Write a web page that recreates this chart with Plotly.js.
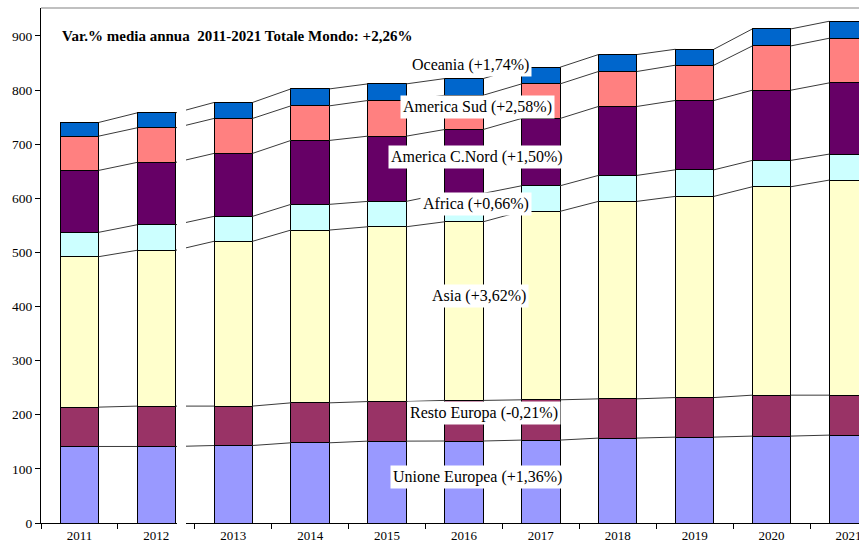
<!DOCTYPE html>
<html>
<head>
<meta charset="utf-8">
<script src="https://cdn.plot.ly/plotly-3.0.1.min.js"></script>
<style>
html,body{margin:0;padding:0;background:#fff;overflow:hidden;}
#chart{width:859px;height:544px;}
</style>
</head>
<body>
<div id="chart"></div>
<script>
// ---- data ----
var years = ["2011","2012","2013","2014","2015","2016","2017","2018","2019","2020","2021"];
var seriesNames = ["Unione Europea","Resto Europa","Asia","Africa","America C.Nord","America Sud","Oceania"];
var growthLabels = ["+1,36%","-0,21%","+3,62%","+0,66%","+1,50%","+2,58%","+1,74%"];
var unioneEuropea = [141.4,141.4,143.2,148.2,151.3,151.5,153.2,156.9,158.7,160.6,162.4];
var restoEuropa   = [72.7,74.6,72.8,73.8,73.1,75.0,74.4,72.5,73.1,75.6,73.8];
var asia          = [278.0,287.9,304.5,319.3,323.0,330.1,348.3,364.9,371.7,385.1,397.4];
var africa        = [45.0,47.2,46.1,47.5,46.9,52.4,47.2,48.0,49.1,48.7,48.0];
var americaCNord  = [114.4,115.2,116.3,118.1,120.5,118.1,124.4,127.4,128.1,129.7,131.6];
var americaSud    = [63.3,63.9,64.6,63.9,65.9,63.3,63.9,64.6,65.2,81.8,82.5];
var oceania       = [25.3,27.6,29.5,31.3,30.7,30.8,30.8,31.3,29.5,31.4,31.4];
var titleText = "Var.% media annua  2011-2021 Totale Mondo: +2,26%";

// ---- style ----
var colors = ["#9999FF","#993366","#FFFFCC","#CCFFFF","#660066","#FF8080","#0066CC"];
var serif = "Liberation Serif, Times New Roman, serif";
var allSeries = [unioneEuropea, restoEuropa, asia, africa, americaCNord, americaSud, oceania];
var xIdx = years.map(function(_, i){ return i; });
var halfBar = 0.25;

var traces = [];
allSeries.forEach(function(vals, k){
  traces.push({
    type: "bar", x: xIdx, y: vals, name: seriesNames[k],
    marker: {color: colors[k], line: {color: "#000", width: 1}},
    hoverinfo: "skip"
  });
});

// cumulative tops for series lines
var cum = [];
var run = years.map(function(){ return 0; });
allSeries.forEach(function(vals){
  run = run.map(function(v, i){ return v + vals[i]; });
  cum.push(run.slice());
});
cum.forEach(function(c){
  var lx = [], ly = [];
  for (var i = 0; i < years.length - 1; i++) {
    lx.push(i + halfBar, i + 1 - halfBar, null);
    ly.push(c[i], c[i+1], null);
  }
  traces.push({
    type: "scatter", mode: "lines", x: lx, y: ly,
    line: {color: "#3a3a3a", width: 1}, hoverinfo: "skip", showlegend: false
  });
});

var boundaries = [];
for (var b = 0; b <= years.length; b++) boundaries.push(b - 0.5);

// label positions (px inside 859x544 canvas)
var L = 41, W = 818, T = 8, H = 515, yMax = 951.6;
var labelPx = [[477,477],[484,413],[479,296],[476,204],[477,157],[477,107],[470,65]];
var annotations = seriesNames.map(function(n, k){
  return {
    xref: "paper", yref: "paper",
    x: (labelPx[k][0] - L) / W, y: 1 - (labelPx[k][1] - T) / H,
    xanchor: "center", yanchor: "middle",
    text: n + " (" + growthLabels[k] + ")",
    showarrow: false, bgcolor: "#ffffff", borderpad: 2,
    font: {family: serif, size: 16, color: "#000"}
  };
});

var layout = {
  width: 859, height: 544,
  margin: {l: L, r: 0, t: T, b: 544 - T - H},
  paper_bgcolor: "#fff", plot_bgcolor: "#fff",
  barmode: "stack", bargap: 0.5,
  showlegend: false,
  title: {
    text: "<b>" + titleText + "</b>",
    xref: "paper", x: (62 - L) / W, xanchor: "left",
    yref: "container", y: 1 - 36 / 544, yanchor: "middle",
    font: {family: serif, size: 15, color: "#000"}
  },
  xaxis: {
    type: "linear", range: [-0.5, -0.5 + W / 76.9],
    tickmode: "array", tickvals: xIdx, ticktext: years,
    ticks: "", showgrid: false, zeroline: false,
    showline: true, linecolor: "#000", linewidth: 1,
    ticklabeloverflow: "allow",
    tickfont: {family: serif, size: 13, color: "#000"},
    minor: {tickmode: "array", tickvals: boundaries, ticks: "outside", ticklen: 5, tickcolor: "#000", showgrid: false},
    fixedrange: true
  },
  yaxis: {
    range: [0, yMax], tickmode: "linear", tick0: 0, dtick: 100,
    ticks: "outside", ticklen: 5, tickcolor: "#000",
    showgrid: false, zeroline: false,
    showline: true, linecolor: "#000", linewidth: 1,
    tickfont: {family: serif, size: 13.5, color: "#000"},
    fixedrange: true
  },
  shapes: [
    {type: "line", xref: "paper", yref: "paper", x0: 0, x1: 1, y0: 1, y1: 1,
     line: {color: "#c0c0c0", width: 2}, layer: "above"},
    {type: "rect", xref: "paper", yref: "paper",
     x0: (177 - L) / W, x1: (186 - L) / W, y0: -0.012, y1: 0.985,
     fillcolor: "#fff", line: {width: 0}, layer: "above"}
  ],
  annotations: annotations
};

Plotly.newPlot("chart", traces, layout, {staticPlot: true, displayModeBar: false});
</script>
</body>
</html>
